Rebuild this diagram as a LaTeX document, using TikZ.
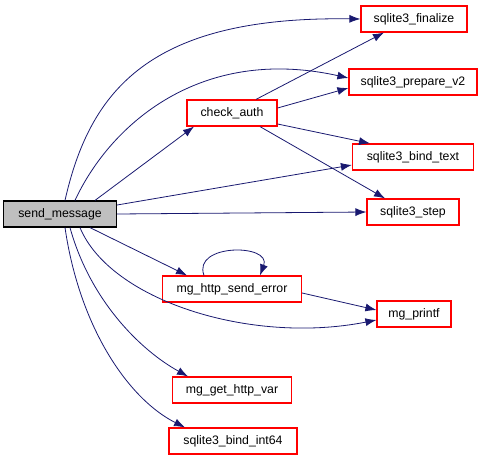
\documentclass[tikz,border=0pt]{standalone}
\usepackage{fontspec}
\setmainfont{Liberation Sans}
\usetikzlibrary{arrows.meta,positioning}

\definecolor{edgeblue}{HTML}{191970}
\definecolor{rootgray}{HTML}{BFBFBF}
\definecolor{boxred}{HTML}{FF0000}

\tikzset{
  fn/.style={draw=boxred, fill=white, line width=1.2pt, minimum height=26pt, inner sep=0pt, font=\fontsize{12.3}{14}\selectfont},
  root/.style={fn, draw=black, fill=rootgray},
  call/.style={draw=edgeblue, line width=0.8pt, -{Latex[length=11pt,width=8pt]}}
}

\begin{document}
\begin{tikzpicture}[x=1pt,y=-1pt]
  \useasboundingbox (0,0) rectangle (484,460);

  % caller
  \node[root, minimum width=113pt] (send) at (60,214) {send\_message};

  % callees
  \node[fn, minimum width=106pt] (fin) at (414,19) {sqlite3\_finalize};
  \node[fn, minimum width=128pt] (prep) at (413,82) {sqlite3\_prepare\_v2};
  \node[fn, minimum width=90pt] (auth) at (232,113) {check\_auth};
  \node[fn, minimum width=121pt] (btext) at (413,157) {sqlite3\_bind\_text};
  \node[fn, minimum width=92pt] (step) at (413,212) {sqlite3\_step};
  \node[fn, minimum width=139pt] (err) at (232,289) {mg\_http\_send\_error};
  \node[fn, minimum width=74pt] (prt) at (414,314) {mg\_printf};
  \node[fn, minimum width=119pt] (var) at (232,390) {mg\_get\_http\_var};
  \node[fn, minimum width=128pt] (bint) at (233,441) {sqlite3\_bind\_int64};

  % send_message calls
  \draw[call] ([xshift=5pt]send.north) .. controls (90,90) and (150,16) .. (fin.west);
  \draw[call] ([xshift=15pt]send.north) .. controls (110,125) and (200,45) .. ([yshift=4pt]prep.west);
  \draw[call] ([xshift=35pt]send.north) -- ([xshift=-38pt]auth.south);
  \draw[call] ([yshift=9pt]send.east) -- ([yshift=-8pt]btext.west);
  \draw[call] (send.east) -- (step.west);
  \draw[call] ([xshift=30pt]send.south) -- ([xshift=-45pt]err.north);
  \draw[call] ([xshift=20pt]send.south) .. controls (110,300) and (250,345) .. ([yshift=-6pt]prt.west);
  \draw[call] ([xshift=10pt]send.south) .. controls (90,300) and (140,350) .. ([xshift=-44pt]var.north);
  \draw[call] ([xshift=5pt]send.south) .. controls (80,330) and (130,400) .. ([xshift=-48pt]bint.north);

  % check_auth calls
  \draw[call] ([xshift=24pt]auth.north) -- ([xshift=-30pt]fin.south);
  \draw[call] ([yshift=5pt]auth.east) -- ([yshift=-6pt]prep.west);
  \draw[call] ([yshift=-11pt]auth.east) -- ([xshift=-43pt]btext.north);
  \draw[call] ([xshift=28pt]auth.south) -- ([xshift=-28pt]step.north);

  % mg_http_send_error calls
  \draw[call] ([xshift=-28pt]err.north) .. controls +(-12,-32) and +(12,-32) .. ([xshift=28pt]err.north);
  \draw[call] ([yshift=-4pt]err.east) -- ([yshift=4pt]prt.west);
\end{tikzpicture}
\end{document}
